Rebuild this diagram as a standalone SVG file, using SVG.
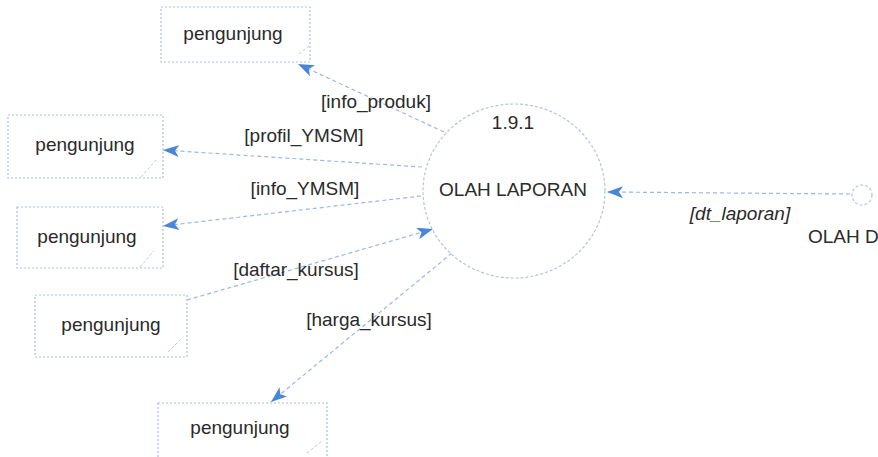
<svg xmlns="http://www.w3.org/2000/svg" width="878" height="457" viewBox="0 0 878 457">
<style>
  .bg{fill:#ffffff}
  .box{fill:#ffffff;stroke:#a9bfe6;stroke-width:1.2;stroke-dasharray:2 2}
  .grip{fill:none;stroke:#b7c8ea;stroke-width:1;stroke-dasharray:3 2}
  .proc{fill:#ffffff;stroke:#b6c3dc;stroke-width:1.2;stroke-dasharray:3 2}
  .flow{fill:none;stroke:#9db7e4;stroke-width:1.2;stroke-dasharray:4 3}
  text{font-family:"Liberation Sans",Arial,sans-serif;font-size:19px;fill:#2a2a2a}
  .c{text-anchor:middle}
  .it{font-style:italic}
</style>
<defs>
  <marker id="arr" markerUnits="userSpaceOnUse" markerWidth="18" markerHeight="14" refX="16" refY="6" orient="auto">
    <path d="M0,0 L16,6 L0,12 L4,6 Z" fill="#4a86d6"/>
  </marker>
</defs>
<rect class="bg" x="0" y="0" width="878" height="457"/>

<g id="connectors">
  <line class="flow" x1="444" y1="132" x2="298" y2="64" marker-end="url(#arr)"/>
  <line class="flow" x1="422" y1="167" x2="163" y2="150" marker-end="url(#arr)"/>
  <line class="flow" x1="421" y1="196" x2="163" y2="226" marker-end="url(#arr)"/>
  <line class="flow" x1="187" y1="300" x2="433" y2="229" marker-end="url(#arr)"/>
  <line class="flow" x1="452" y1="253" x2="271" y2="402" marker-end="url(#arr)"/>
  <line class="flow" x1="850" y1="194" x2="607" y2="192" marker-end="url(#arr)"/>
  <text class="c" x="376" y="108">[info_produk]</text>
  <text class="c" x="304" y="142">[profil_YMSM]</text>
  <text class="c" x="305" y="195">[info_YMSM]</text>
  <text class="c" x="296" y="276">[daftar_kursus]</text>
  <text class="c" x="369" y="326">[harga_kursus]</text>
  <text class="c it" x="740" y="220">[dt_laporan]</text>
</g>

<g id="proc-olah-laporan">
  <ellipse class="proc" cx="514" cy="191" rx="91" ry="87"/>
  <text class="c" x="513" y="129">1.9.1</text>
  <text class="c" x="513" y="196">OLAH LAPORAN</text>
</g>

<g id="proc-olah-d">
  <circle class="proc" cx="862" cy="195" r="10"/>
  <text x="808" y="243">OLAH D</text>
</g>

<g id="ent-pengunjung-1">
  <rect class="box" x="161" y="7" width="149" height="55"/>
  <line class="grip" x1="299" y1="54" x2="309" y2="46"/>
  <text class="c" x="233" y="40">pengunjung</text>
</g>

<g id="ent-pengunjung-2">
  <rect class="box" x="8" y="115" width="155" height="63"/>
  <line class="grip" x1="141" y1="177" x2="157" y2="159"/>
  <text class="c" x="85" y="151">pengunjung</text>
</g>

<g id="ent-pengunjung-3">
  <rect class="box" x="17" y="207" width="146" height="61"/>
  <line class="grip" x1="140" y1="267" x2="154" y2="251"/>
  <text class="c" x="87" y="243">pengunjung</text>
</g>

<g id="ent-pengunjung-4">
  <rect class="box" x="35" y="295" width="152" height="62"/>
  <line class="grip" x1="168" y1="352" x2="182" y2="338"/>
  <text class="c" x="111" y="331">pengunjung</text>
</g>

<g id="ent-pengunjung-5">
  <rect class="box" x="158" y="403" width="169" height="70"/>
  <line class="grip" x1="307" y1="453" x2="322" y2="441"/>
  <text class="c" x="240" y="434">pengunjung</text>
</g>
</svg>
